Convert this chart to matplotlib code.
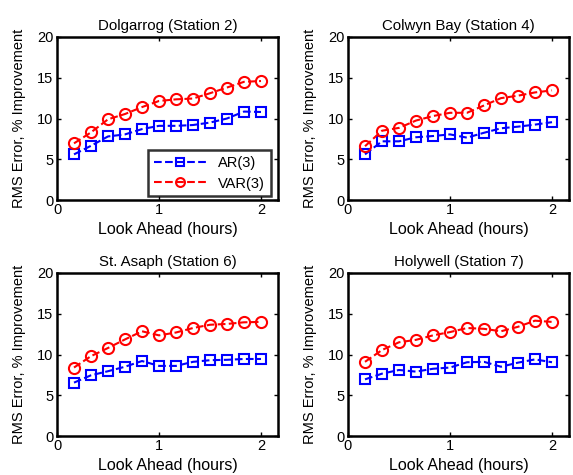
import numpy as np
import matplotlib
matplotlib.use("Agg")
import matplotlib.pyplot as plt

plt.rcParams["font.family"] = ["Liberation Sans", "DejaVu Sans"]

# look-ahead in hours (10 minute steps)
lead = np.arange(1, 13) / 6.0

titles = ["Dolgarrog (Station 2)", "Colwyn Bay (Station 4)",
          "St. Asaph (Station 6)", "Holywell (Station 7)"]

ar_st2 = [5.6, 6.65, 7.8, 8.05, 8.7, 9.1, 9.1, 9.2, 9.5, 10.0, 10.85, 10.8]
var_st2 = [6.95, 8.3, 9.9, 10.55, 11.4, 12.15, 12.35, 12.45, 13.1, 13.8, 14.5, 14.6]

ar_st4 = [5.6, 7.2, 7.2, 7.7, 7.85, 8.05, 7.65, 8.25, 8.8, 9.0, 9.25, 9.55]
var_st4 = [6.6, 8.5, 8.85, 9.75, 10.3, 10.7, 10.7, 11.6, 12.5, 12.8, 13.2, 13.45]

ar_st6 = [6.55, 7.45, 7.95, 8.5, 9.2, 8.6, 8.6, 9.1, 9.3, 9.35, 9.45, 9.45]
var_st6 = [8.4, 9.8, 10.8, 11.85, 12.85, 12.35, 12.7, 13.25, 13.65, 13.75, 13.95, 14.0]

ar_st7 = [6.95, 7.65, 8.1, 7.9, 8.25, 8.4, 9.05, 9.1, 8.5, 9.0, 9.4, 9.05]
var_st7 = [9.1, 10.55, 11.5, 11.8, 12.35, 12.75, 13.25, 13.15, 12.85, 13.4, 14.15, 14.0]

ar_all = [ar_st2, ar_st4, ar_st6, ar_st7]
var_all = [var_st2, var_st4, var_st6, var_st7]

W, H = 573, 475
fig = plt.figure(figsize=(W / 100, H / 100), dpi=100)

lefts = [57, 348, 57, 348]
tops = [37, 37, 273, 273]
aw, ah = 221, 163

for i in range(4):
    ax = fig.add_axes([lefts[i] / W, 1 - (tops[i] + ah) / H, aw / W, ah / H])
    ax.plot(lead, ar_all[i], "--s", color="blue", lw=1.5, ms=7,
            mfc="none", mew=1.5, label="AR(3)")
    ax.plot(lead, var_all[i], "--o", color="red", lw=1.5, ms=8,
            mfc="none", mew=1.5, label="VAR(3)")
    ax.set_xlim(0, 13 / 6)
    ax.set_ylim(0, 20)
    ax.set_xticks([0, 1, 2])
    ax.set_yticks([0, 5, 10, 15, 20])
    ax.tick_params(direction="in", top=True, right=True, length=3,
                   width=1, labelsize=10.5, pad=2.5)
    for s in ax.spines.values():
        s.set_linewidth(1.8)
    ax.set_title(titles[i], fontsize=10.8, pad=5)
    ax.set_xlabel("Look Ahead (hours)", fontsize=11.5, labelpad=3)
    ax.set_ylabel("RMS Error, % Improvement", fontsize=10.5, labelpad=8)
    if i == 0:
        leg = ax.legend(loc="lower right", fontsize=10.5, fancybox=False,
                        borderaxespad=0.25, handlelength=3.6,
                        labelspacing=0.45, markerscale=0.8,
                        bbox_to_anchor=(0.985, 0.0))
        leg.get_frame().set_edgecolor("black")
        leg.get_frame().set_linewidth(1.8)

fig.savefig("out.png", dpi=100)
